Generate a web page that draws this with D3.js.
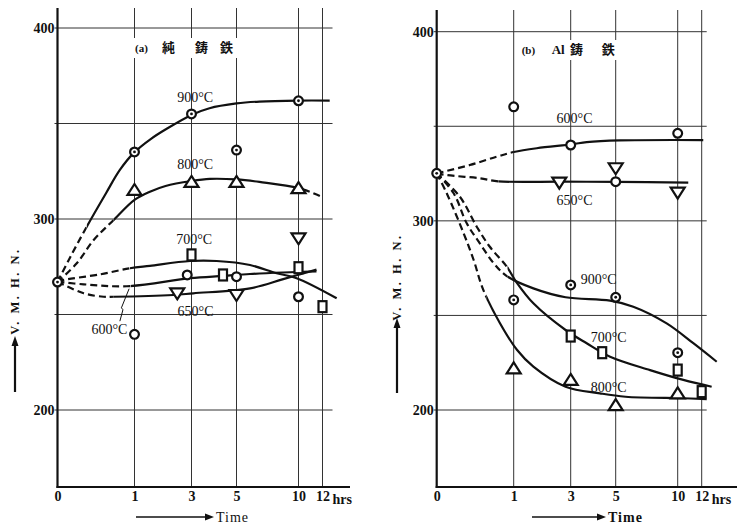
<!DOCTYPE html>
<html>
<head>
<meta charset="utf-8">
<script src="https://cdn.jsdelivr.net/npm/d3@7"></script>
<style>
  body { margin: 0; background: #fff; }
  svg { display: block; font-family: 'Liberation Serif', 'DejaVu Serif', serif; }
</style>
</head>
<body>
<svg id="chart" width="737" height="527"></svg>
<script>
// time axis (hrs) and hardness ticks
const hours = [0, 1, 3, 5, 10, 12];
const hardnessTicks = [200, 300, 400];
const hardnessGrid = [200, 250, 300, 350, 400];
const tempLabels = ['900°C', '800°C', '700°C', '650°C', '600°C'];

// ---- (a) panel: [hours, V.M.H.N.]
const aTitle = ['(a)', '純', '鋳', '鉄'];
const aStart = [[0, 267]];
const a900Line = [[0, 267], [0.16, 279.6], [0.38, 296], [0.63, 313.5], [0.81, 325.7], [1, 335], [1.58, 342], [2.1, 347], [3, 354.5], [3.8, 358], [5, 360.5], [6.85, 361.5], [10, 362], [12.6, 362]];
const a900Pts = [[1, 335.1], [3, 355], [5, 336.1], [10, 361.9]];
const a800Line = [[0, 267], [0.25, 276.8], [0.47, 289], [0.73, 299.5], [1, 310], [1.54, 314.3], [2.09, 317.3], [3, 319.9], [3.82, 321], [5, 320.7], [6.85, 319.4], [10, 316.2], [12, 311.5]];
const a800Pts = [[1, 315.2], [3, 319.4], [5, 319.4], [10, 316.2]];
const a700Line = [[0, 267.2], [0.08, 268.1], [0.55, 271], [0.94, 274.2], [1.54, 275.5], [2.95, 278], [4.12, 278], [6.09, 275.9], [8.24, 271.6], [9.85, 269], [13.18, 258.5]];
const a700Pts = [[3, 281.2], [4.4, 270.7], [10, 274.5], [12, 254.1]];
const a650Line = [[0, 267.2], [0.34, 261.1], [0.6, 259.3], [0.73, 259.3], [2.36, 260.2], [3.08, 261.1], [6.09, 263.7], [8.77, 268.5], [11.5, 273.5]];
const a650Pts = [[2.5, 261.1], [5, 260.2], [10, 289.9]];
const a600Line = [[0, 267.2], [0.34, 265.8], [0.9, 264.8], [2.95, 269], [4.41, 270.2], [6.09, 271.2], [8.77, 272], [11.5, 272.6]];
const a600Pts = [[1, 239.6], [2.85, 270.7], [5, 269.8], [10, 259.3]];
// label anchors [hours, V.M.H.N.] in tempLabels order
const aLabelAt = [[3.16, 361.3], [3.16, 326.2], [3.12, 286.9], [3.18, 249.2], [0.675, 239.8]];
const aLeader = [[0.81, 246.5], [0.85, 252.5], [0.83, 253.5], [0.93, 263.5]];

// ---- (b) panel
const bTitle = ['(b)', 'Al', '鋳', '鉄'];
const bStart = [[0, 325.1]];
const b900Line = [[0, 325.1], [0.22, 314.6], [0.39, 298.7], [0.56, 288.1], [0.74, 277.6], [0.91, 270.8], [1.69, 264.3], [2.82, 259.6], [4.75, 257.8], [6.42, 254.6], [9.11, 245.8], [11.3, 235.3], [13.25, 225.5]];
const b900Pts = [[1, 258.2], [3, 266.1], [5, 259.6], [10, 230.3]];
const b800Line = [[0, 325.1], [0.13, 314.6], [0.35, 293.4], [0.48, 279.3], [0.6, 264], [0.82, 246], [1.12, 231.7], [1.69, 222.9], [2.82, 212.3], [4.3, 208.8], [5.79, 207], [10.47, 206.2], [12.42, 205.8]];
const b800Pts = [[1, 222], [3, 215.9], [5, 202.6], [10, 208.8]];
const b700Line = [[0, 325.1], [0.3, 312.8], [0.52, 296.9], [0.69, 286.3], [0.91, 275.8], [1.1, 267.5], [1.69, 256.4], [2.82, 242.3], [3.71, 235.3], [4.75, 228.2], [7.77, 221.1], [10.47, 215.9], [12.83, 212.3]];
const b700Pts = [[3, 239.1], [4.4, 230.3], [10, 221.1], [12, 209.7]];
const b650Line = [[0, 325.1], [0.13, 324.2], [0.56, 322.5], [0.8, 320.9], [2.68, 320.7], [5.08, 320.6], [10.88, 320.2]];
const b650Pts = [[2.6, 320.2], [5, 327.8], [10, 314.9]];
const b600Line = [[0, 325.1], [0.43, 329.5], [0.78, 333.9], [1, 336.4], [1.81, 338.4], [3.07, 340.5], [3.71, 341.6], [5.35, 342.5], [12.13, 342.7]];
const b600Pts = [[1, 360.3], [3, 340.1], [5, 320.7], [10, 346.3]];
const bLabelAt = [[4.24, 266.6], [4.69, 209.5], [4.69, 236], [3.17, 308.4], [3.17, 351.7]];

const INK = '#111';
// spacing of the hour ticks from the axis origin (same on both panels)
const X_STOPS = [0, 77, 134, 179, 241, 265];

const panels = [
  {
    key: 'a', x0: 57.5, yTop: 8, y400: 28, axisEnd: 350, gridEnd: 332.5,
    title: aTitle, titleDx: [77.5, 104.5, 137.5, 162.5], titleBox: [130, 38, 110, 20], titleY: 52,
    start: aStart, labelAt: aLabelAt, leader: aLeader,
    series: [
      { line: a900Line, pts: a900Pts, sym: 'dot', dash: [[0, 0.38]] },
      { line: a800Line, pts: a800Pts, sym: 'up', dash: [[0, 0.73], [10, 14]] },
      { line: a700Line, pts: a700Pts, sym: 'rect', dash: [[0, 0.94]] },
      { line: a650Line, pts: a650Pts, sym: 'down', dash: [[0, 0.73]] },
      { line: a600Line, pts: a600Pts, sym: 'ring', dash: [[0, 0.95]] },
    ],
    ylab: { x: 15, cy: 291, a1: 392, a2: 336 },
    time: { x1: 136, x2: 214, tx: 216, bold: false },
  },
  {
    key: 'b', x0: 436.7, yTop: 10, y400: 31.7, axisEnd: 737, gridEnd: 706.7,
    title: bTitle, titleDx: [85, 115, 133.3, 165], titleBox: [516, 40, 104, 20], titleY: 54,
    start: bStart, labelAt: bLabelAt, leader: null,
    series: [
      { line: b900Line, pts: b900Pts, sym: 'dot', dash: [[0, 0.92]] },
      { line: b800Line, pts: b800Pts, sym: 'up', dash: [[0, 0.65]] },
      { line: b700Line, pts: b700Pts, sym: 'rect', dash: [[0, 0.92]] },
      { line: b650Line, pts: b650Pts, sym: 'down', dash: [[0, 0.8]] },
      { line: b600Line, pts: b600Pts, sym: 'ring', dash: [[0, 1]] },
    ],
    ylab: { x: 397, cy: 277, a1: 393, a2: 318 },
    time: { x1: 532, x2: 606, tx: 608, bold: true },
  },
];

const svg = d3.select('#chart');
const defs = svg.append('defs');
const BOTTOM = 487;

panels.forEach(drawPanel);

function drawPanel(p) {
  const x = d3.scaleLinear().domain(hours).range(X_STOPS.map((d) => p.x0 + d));
  const y = d3.scaleLinear().domain([200, 400]).range([410, p.y400]);
  const g = svg.append('g');

  // grid
  g.append('g').selectAll('line').data(hardnessGrid).join('line')
    .attr('x1', p.x0 - 3).attr('x2', p.gridEnd)
    .attr('y1', (d) => y(d)).attr('y2', (d) => y(d))
    .attr('stroke', '#333').attr('stroke-width', 1);
  g.append('g').selectAll('line').data(hours.slice(1)).join('line')
    .attr('x1', (d) => x(d)).attr('x2', (d) => x(d))
    .attr('y1', p.yTop).attr('y2', BOTTOM)
    .attr('stroke', '#333').attr('stroke-width', 1);

  // title with white box
  g.append('rect').attr('x', p.titleBox[0]).attr('y', p.titleBox[1])
    .attr('width', p.titleBox[2]).attr('height', p.titleBox[3]).attr('fill', '#fff');
  g.append('g').selectAll('text').data(p.title).join('text')
    .attr('x', (d, i) => p.x0 + p.titleDx[i]).attr('y', p.titleY)
    .attr('font-size', (d, i) => (i === 0 ? 11 : 13))
    .attr('font-weight', 'bold')
    .attr('font-family', (d) => (/[\u3000-\u9fff]/.test(d) ? "'Noto Sans CJK JP', sans-serif" : null))
    .attr('fill', INK)
    .text((d) => d);

  // axes
  g.append('line').attr('x1', p.x0).attr('x2', p.x0).attr('y1', p.yTop).attr('y2', BOTTOM + 1)
    .attr('stroke', INK).attr('stroke-width', 2.2);
  g.append('line').attr('x1', p.x0 - 1).attr('x2', p.axisEnd).attr('y1', BOTTOM).attr('y2', BOTTOM)
    .attr('stroke', INK).attr('stroke-width', 2.2);

  const yAxis = g.append('g').attr('transform', `translate(${p.x0 - 2},0)`)
    .call(d3.axisLeft(y).tickValues(hardnessTicks).tickSize(0).tickPadding(1));
  const xAxis = g.append('g').attr('transform', `translate(0,${BOTTOM})`)
    .call(d3.axisBottom(x).tickValues(hours).tickSize(0).tickPadding(4));
  [yAxis, xAxis].forEach((ax) => {
    ax.select('.domain').remove();
    ax.selectAll('text').attr('font-family', "'Liberation Serif', serif")
      .attr('font-size', 14).attr('font-weight', 'bold').attr('fill', INK);
  });
  g.append('text').attr('x', x(12) + 10).attr('y', BOTTOM + 17)
    .attr('font-size', 14).attr('font-weight', 'bold').attr('fill', INK).text('hrs');

  // Time arrow
  const t = p.time;
  g.append('line').attr('x1', t.x1).attr('x2', t.x2 - 6).attr('y1', 517).attr('y2', 517)
    .attr('stroke', INK).attr('stroke-width', 1.6);
  g.append('path').attr('d', `M${t.x2},517 L${t.x2 - 9},513.5 L${t.x2 - 9},520.5 Z`).attr('fill', INK);
  g.append('text').attr('x', t.tx).attr('y', 522).attr('font-size', 14)
    .attr('letter-spacing', 1).attr('font-weight', t.bold ? 'bold' : 'normal')
    .attr('fill', INK).text('Time');

  // y label + arrow
  const yl = p.ylab;
  g.append('text').attr('transform', `translate(${yl.x + 4},${yl.cy}) rotate(-90)`)
    .attr('text-anchor', 'middle').attr('font-size', 12.5).attr('font-weight', 'bold')
    .attr('letter-spacing', 2.5).attr('fill', INK).text('V. M. H. N.');
  g.append('line').attr('x1', yl.x).attr('x2', yl.x).attr('y1', yl.a1).attr('y2', yl.a2 + 6)
    .attr('stroke', INK).attr('stroke-width', 2.2);
  g.append('path').attr('d', `M${yl.x},${yl.a2} L${yl.x - 3.5},${yl.a2 + 10} L${yl.x + 3.5},${yl.a2 + 10} Z`).attr('fill', INK);

  // curves, dashed near the origin (and where the reference breaks them)
  const line = d3.line().x((d) => x(d[0])).y((d) => y(d[1])).curve(d3.curveCatmullRom.alpha(0.5));
  p.series.forEach((s, si) => {
    const dPath = line(s.line);
    const tEnd = s.line[s.line.length - 1][0] + 2;
    const segs = [];
    let cur = -1;
    s.dash.forEach(([a, b]) => {
      const a0 = a === 0 ? -1 : a;
      if (a0 > cur) segs.push([cur, a0, false]);
      segs.push([a0, b, true]);
      cur = b;
    });
    if (cur < tEnd) segs.push([cur, tEnd, false]);
    segs.forEach(([a, b, dashed], k) => {
      const id = `clip-${p.key}-${si}-${k}`;
      defs.append('clipPath').attr('id', id).append('rect')
        .attr('x', x(a)).attr('y', 0).attr('width', x(b) - x(a)).attr('height', 527);
      g.append('path').attr('d', dPath).attr('clip-path', `url(#${id})`)
        .attr('fill', 'none').attr('stroke', INK).attr('stroke-width', 2.2)
        .attr('stroke-dasharray', dashed ? '7,4' : null);
    });
  });

  // leader for a label
  if (p.leader) {
    g.append('path').attr('d', d3.line().x((d) => x(d[0])).y((d) => y(d[1]))(p.leader))
      .attr('fill', 'none').attr('stroke', INK).attr('stroke-width', 1);
  }

  // markers
  p.series.forEach((s) => {
    const mk = g.append('g').selectAll('g').data(s.pts).join('g')
      .attr('transform', (d) => `translate(${x(d[0])},${y(d[1])})`);
    drawSymbol(mk, s.sym);
  });
  drawSymbol(g.append('g').selectAll('g').data(p.start).join('g')
    .attr('transform', (d) => `translate(${x(d[0])},${y(d[1])})`), 'dot');

  // temperature labels
  g.append('g').selectAll('text').data(p.labelAt).join('text')
    .attr('x', (d) => x(d[0])).attr('y', (d) => y(d[1]))
    .attr('text-anchor', 'middle').attr('font-size', 14).attr('fill', INK)
    .text((d, i) => tempLabels[i]);
}

function drawSymbol(sel, sym) {
  const common = (s) => s.attr('fill', '#fff').attr('stroke', INK).attr('stroke-width', 2.2);
  if (sym === 'ring' || sym === 'dot') {
    common(sel.append('circle').attr('r', 4.4));
    if (sym === 'dot') sel.append('circle').attr('r', 1.4).attr('fill', INK);
  } else if (sym === 'up') {
    common(sel.append('path').attr('d', 'M0,-6 L7,5 L-7,5 Z'));
  } else if (sym === 'down') {
    common(sel.append('path').attr('d', 'M0,6 L7,-5 L-7,-5 Z'));
  } else if (sym === 'rect') {
    common(sel.append('rect').attr('x', -4).attr('y', -5.5).attr('width', 8).attr('height', 11));
  }
}
</script>
</body>
</html>
